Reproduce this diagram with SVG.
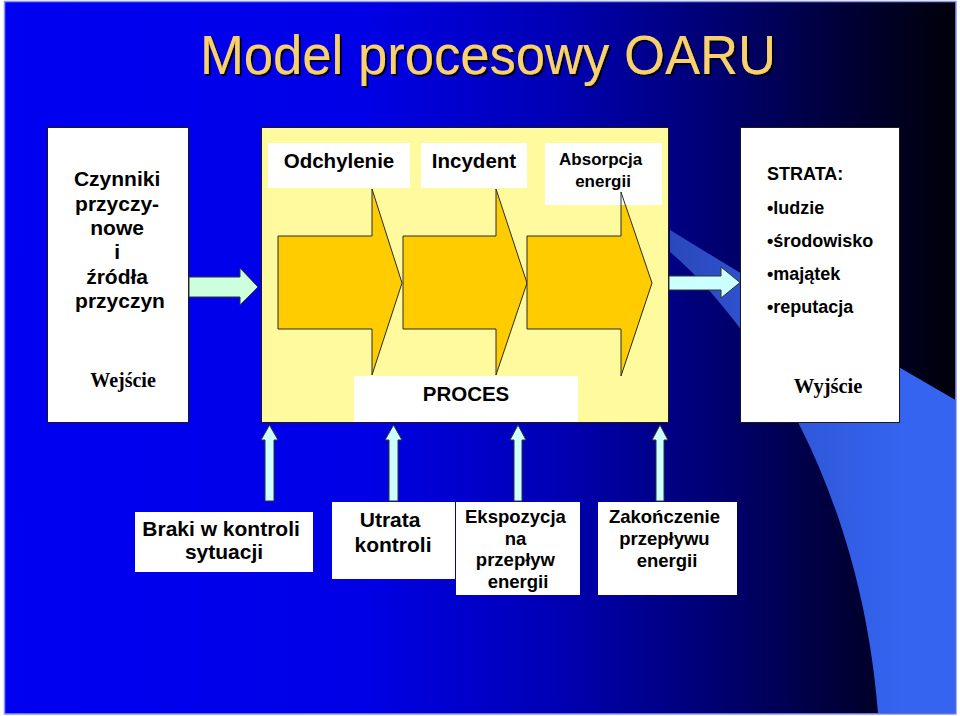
<svg xmlns="http://www.w3.org/2000/svg" width="960" height="716" viewBox="0 0 960 716">
  <defs>
    <linearGradient id="bg" x1="0" y1="0" x2="960" y2="0" gradientUnits="userSpaceOnUse">
      <stop offset="0" stop-color="#0000f2"/>
      <stop offset="0.38" stop-color="#0000e6"/>
      <stop offset="0.58" stop-color="#0000b4"/>
      <stop offset="0.76" stop-color="#00006c"/>
      <stop offset="0.9" stop-color="#00002e"/>
      <stop offset="1" stop-color="#000008"/>
    </linearGradient>
    <linearGradient id="swoosh" x1="670" y1="0" x2="900" y2="0" gradientUnits="userSpaceOnUse">
      <stop offset="0" stop-color="#2a48bc"/>
      <stop offset="1" stop-color="#3464f0"/>
    </linearGradient>
    <filter id="sh" x="-5%" y="-20%" width="110%" height="140%">
      <feDropShadow dx="2" dy="2" stdDeviation="0.6" flood-color="#000000" flood-opacity="0.9"/>
    </filter>
  </defs>
  <style>
    .sans { font-family: "Liberation Sans", Arial, sans-serif; font-weight: bold; fill: #000; }
    .serif { font-family: "Liberation Serif", "Times New Roman", serif; font-weight: bold; fill: #000; }
    .box { fill: #ffffff; stroke: #1a1a1a; stroke-width: 1; }
    .plain { fill: #ffffff; }
    .big { fill: #ffcc00; stroke: #2a2a2a; stroke-width: 1; stroke-linejoin: miter; }
    .cyan { fill: #ccffff; stroke: #333333; stroke-width: 1; }
    .green { fill: #ccffdd; stroke: #333333; stroke-width: 1; }
  </style>

  <!-- background -->
  <rect x="0" y="0" width="960" height="716" fill="#ffffff"/>
  <rect x="4.5" y="1.5" width="951.5" height="712.5" fill="url(#bg)" stroke="#8a96ff" stroke-width="1.5"/>
  <path d="M670,230 Q800,310 955.5,400 L955.5,713 L878,713 C860,480 750,320 670,252 Z" fill="url(#swoosh)"/>

  <!-- title -->
  <text x="488" y="74" text-anchor="middle" font-family="'Liberation Sans', Arial, sans-serif" font-size="55" fill="#f8d070" filter="url(#sh)" textLength="576" lengthAdjust="spacingAndGlyphs">Model procesowy OARU</text>

  <!-- input node -->
  <g id="input">
    <rect class="box" x="47.5" y="127.5" width="141" height="295"/>
    <text class="sans" font-size="21" text-anchor="middle">
      <tspan x="120" y="186">Czynniki</tspan>
      <tspan x="120" y="210.5">przyczy-</tspan>
      <tspan x="120" y="235">nowe</tspan>
      <tspan x="120" y="259">i</tspan>
      <tspan x="120" y="284">źródła</tspan>
      <tspan x="120" y="308">przyczyn</tspan>
    </text>
    <text class="serif" font-size="20" x="123" y="387" text-anchor="middle">Wejście</text>
  </g>

  <!-- process node -->
  <g id="process">
    <rect x="261.5" y="127.5" width="407" height="295" fill="#fffa9e" stroke="#1a1a1a" stroke-width="1"/>
    <polygon class="big" points="278,236 372,236 372,189 402,283 372,375 372,329 278,329"/>
    <polygon class="big" points="403,236 496,236 496,189 527,283 496,375 496,329 403,329"/>
    <polygon class="big" points="527,236 621,236 621,192 652,283 621,376 621,329 527,329"/>
    <rect class="plain" x="268" y="143" width="142" height="45"/>
    <rect class="plain" x="421" y="143" width="106" height="45"/>
    <rect class="plain" x="545" y="143" width="117" height="62"/>
    <polyline points="621,205 621,192 625.3,205" fill="none" stroke="#2a2a2a" stroke-width="1"/>
    <text class="sans" font-size="20.5" x="339" y="168" text-anchor="middle">Odchylenie</text>
    <text class="sans" font-size="20.5" x="474" y="168" text-anchor="middle">Incydent</text>
    <text class="sans" font-size="17" text-anchor="middle">
      <tspan x="603" y="165">Absorpcja</tspan>
      <tspan x="603" y="187">energii</tspan>
    </text>
    <rect class="plain" x="354" y="376" width="224" height="46"/>
    <text class="sans" font-size="20.5" x="466" y="401" text-anchor="middle">PROCES</text>
  </g>

  <!-- output node -->
  <g id="output">
    <rect class="box" x="740.5" y="127.5" width="159" height="295"/>
    <text class="sans" font-size="18">
      <tspan x="767" y="180">STRATA:</tspan>
      <tspan x="767" y="214">•ludzie</tspan>
      <tspan x="767" y="247">•środowisko</tspan>
      <tspan x="767" y="280">•majątek</tspan>
      <tspan x="767" y="313">•reputacja</tspan>
    </text>
    <text class="serif" font-size="20.5" x="828" y="393" text-anchor="middle">Wyjście</text>
  </g>

  <!-- bottom nodes -->
  <g id="braki">
    <rect class="plain" x="135" y="512" width="178" height="60"/>
    <text class="sans" font-size="21" text-anchor="middle">
      <tspan x="224" y="536">Braki w kontroli</tspan>
      <tspan x="224" y="559">sytuacji</tspan>
    </text>
  </g>
  <g id="utrata">
    <rect class="plain" x="332" y="502" width="123" height="77"/>
    <text class="sans" font-size="21" text-anchor="middle">
      <tspan x="393" y="527">Utrata</tspan>
      <tspan x="393" y="552">kontroli</tspan>
    </text>
  </g>
  <g id="ekspozycja">
    <rect class="plain" x="456" y="502" width="124" height="93"/>
    <text class="sans" font-size="18.5" text-anchor="middle">
      <tspan x="518" y="523">Ekspozycja</tspan>
      <tspan x="518" y="545">na</tspan>
      <tspan x="518" y="566">przepływ</tspan>
      <tspan x="518" y="588">energii</tspan>
    </text>
  </g>
  <g id="zakonczenie">
    <rect class="plain" x="598" y="502" width="139" height="93"/>
    <text class="sans" font-size="18.5" text-anchor="middle">
      <tspan x="667" y="523">Zakończenie</tspan>
      <tspan x="667" y="545">przepływu</tspan>
      <tspan x="667" y="567">energii</tspan>
    </text>
  </g>

  <!-- connectors -->
  <g id="connectors">
    <polygon class="green" points="189,277 240,277 240,268 258,287 240,305 240,297 189,297"/>
    <polygon class="cyan" points="669,276 721,276 721,267 740,282.5 721,298 721,290 669,290"/>
    <polygon class="cyan" points="265,501 265,440 261,440 269.5,425 278,440 274,440 274,501"/>
    <polygon class="cyan" points="389,501 389,440 385,440 393.5,425 402,440 398,440 398,501"/>
    <polygon class="cyan" points="514,501 514,440 510,440 518,425 526,440 522,440 522,501"/>
    <polygon class="cyan" points="656,501 656,440 652,440 660,425 668,440 664,440 664,501"/>
  </g>
</svg>
